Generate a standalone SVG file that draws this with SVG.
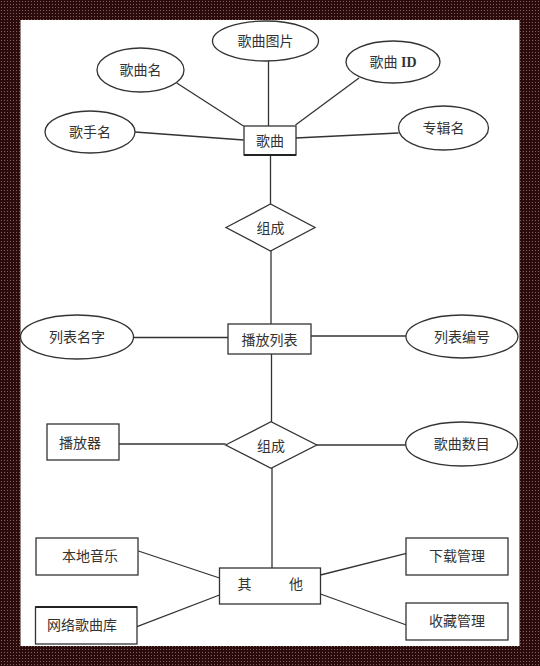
<svg xmlns="http://www.w3.org/2000/svg" width="540" height="666" viewBox="0 0 540 666">
<defs>
<pattern id="dots" width="3" height="3" patternUnits="userSpaceOnUse">
<rect width="3" height="3" fill="#2a0c0d"/>
<rect x="1" y="1" width="1" height="1" fill="#8a5a5c"/>
</pattern>
</defs>
<style>
.sh{fill:#fff;stroke:#333;stroke-width:1.3}
.ln{stroke:#333;stroke-width:1.3;fill:none}
text{font-family:"Liberation Serif","Noto Sans CJK SC",serif;font-size:14px;fill:#333;text-anchor:middle}
</style>
<rect x="0" y="0" width="540" height="666" fill="url(#dots)"/>
<rect x="20.5" y="20" width="499" height="626" fill="#fff"/>
<g id="connectors">
<line class="ln" x1="268.5" y1="61" x2="268.5" y2="126"/>
<line class="ln" x1="176.7" y1="83" x2="243.5" y2="126"/>
<line class="ln" x1="359" y1="78" x2="295.5" y2="125"/>
<line class="ln" x1="135" y1="132" x2="243.5" y2="140"/>
<line class="ln" x1="295.5" y1="138" x2="398.5" y2="133"/>
<line class="ln" x1="270.5" y1="155" x2="270.5" y2="204"/>
<line class="ln" x1="271" y1="251" x2="271" y2="324"/>
<line class="ln" x1="133.6" y1="337.5" x2="228" y2="337.5"/>
<line class="ln" x1="311" y1="336" x2="406.4" y2="336"/>
<line class="ln" x1="271.5" y1="354" x2="271.5" y2="422"/>
<line class="ln" x1="119" y1="444" x2="225.6" y2="444"/>
<line class="ln" x1="316.8" y1="445" x2="405.7" y2="445"/>
<line class="ln" x1="272" y1="468" x2="272" y2="568"/>
<line class="ln" x1="138.4" y1="551" x2="219.5" y2="578"/>
<line class="ln" x1="137" y1="626.7" x2="219.5" y2="595"/>
<line class="ln" x1="320.5" y1="575" x2="406.4" y2="553.3"/>
<line class="ln" x1="320.5" y1="594" x2="406.4" y2="625"/>
</g>
<g id="song-pic"><ellipse class="sh" cx="265.5" cy="41" rx="53" ry="20"/><text x="265.5" y="46">歌曲图片</text></g>
<g id="song-name"><ellipse class="sh" cx="140.5" cy="70" rx="43.5" ry="22"/><text x="140.5" y="75">歌曲名</text></g>
<g id="song-id"><ellipse class="sh" cx="393" cy="62" rx="47" ry="21"/><text x="393" y="67">歌曲 <tspan font-weight="bold">ID</tspan></text></g>
<g id="singer"><ellipse class="sh" cx="90" cy="132" rx="45" ry="21"/><text x="90" y="137">歌手名</text></g>
<g id="album"><ellipse class="sh" cx="443.5" cy="128" rx="45" ry="22"/><text x="443.5" y="133">专辑名</text></g>
<g id="song"><rect class="sh" x="244" y="126" width="52" height="29"/><line x1="244" y1="155" x2="296" y2="155" stroke="#222" stroke-width="2"/><text x="270" y="146">歌曲</text></g>
<g id="compose1"><polygon class="sh" points="226,227.5 270.5,204 315,227.5 270.5,251"/><text x="270.5" y="233">组成</text></g>
<g id="list-name"><ellipse class="sh" cx="77" cy="337" rx="56.5" ry="22"/><text x="77" y="342">列表名字</text></g>
<g id="playlist"><rect class="sh" x="228" y="324" width="83" height="30"/><text x="269.5" y="345">播放列表</text></g>
<g id="list-no"><ellipse class="sh" cx="462" cy="336.5" rx="56" ry="21.5"/><text x="462" y="341.5">列表编号</text></g>
<g id="player"><rect class="sh" x="47" y="424" width="72" height="36"/><text x="80" y="448">播放器</text></g>
<g id="compose2"><polygon class="sh" points="225.6,445 271,421.7 316.8,445 271,468.3"/><text x="271" y="451">组成</text></g>
<g id="song-count"><ellipse class="sh" cx="461.7" cy="444" rx="56" ry="22"/><text x="461.7" y="449">歌曲数目</text></g>
<g id="other"><rect class="sh" x="219.5" y="568" width="101" height="36"/><text y="589"><tspan x="244.5">其</tspan><tspan x="296">他</tspan></text></g>
<g id="local"><rect class="sh" x="36" y="538" width="102" height="37"/><text x="90" y="561">本地音乐</text></g>
<g id="netlib"><rect class="sh" x="35.5" y="607" width="101.5" height="37"/><line x1="35.5" y1="607" x2="137" y2="607" stroke="#222" stroke-width="2"/><text x="82" y="630">网络歌曲库</text></g>
<g id="download"><rect class="sh" x="406" y="538" width="102" height="37"/><text x="457" y="561">下载管理</text></g>
<g id="favorite"><rect class="sh" x="406" y="603" width="102" height="37"/><text x="457" y="626">收藏管理</text></g>
</svg>
